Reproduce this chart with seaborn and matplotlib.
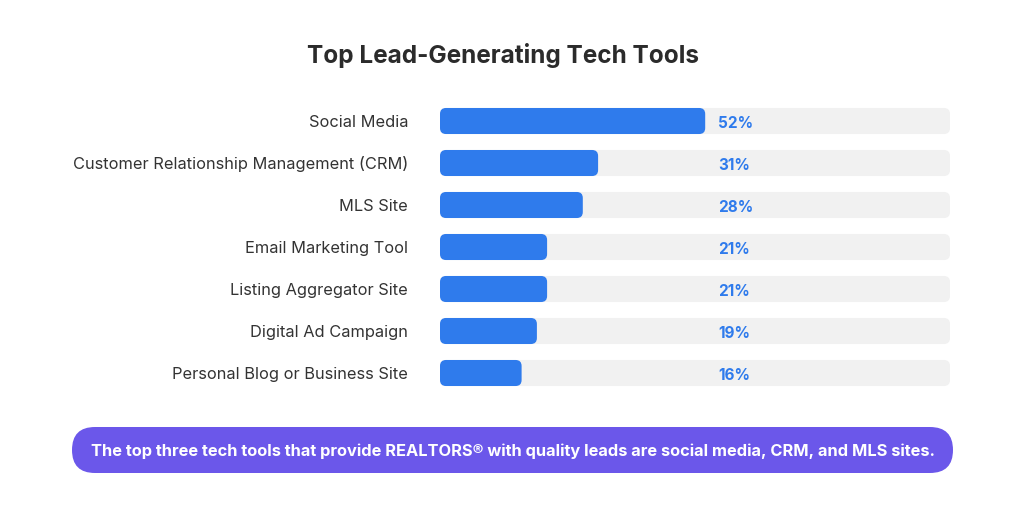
import matplotlib
matplotlib.use("Agg")
import matplotlib.pyplot as plt
from matplotlib.patches import FancyBboxPatch
import pandas as pd
import seaborn as sns

tools = ["Social Media", "Customer Relationship Management (CRM)", "MLS Site",
         "Email Marketing Tool", "Listing Aggregator Site", "Digital Ad Campaign",
         "Personal Blog or Business Site"]
shares = [52, 31, 28, 21, 21, 19, 16]
full = [100] * len(tools)

title = "Top Lead-Generating Tech Tools"
note = "The top three tech tools that provide REALTORS\u00ae with quality leads are social media, CRM, and MLS sites."

BLUE = "#2F7BEC"
TRACK = "#F1F1F1"
PURPLE = "#6B57EA"
DARK = "#2B2B2B"

sns.set_theme(style="white")
plt.rcParams["font.family"] = ["Inter", "DejaVu Sans"]

df = pd.DataFrame({"tool": tools, "share": shares, "full": full})

fig = plt.figure(figsize=(10.24, 5.12), dpi=100)
ax = fig.add_axes([440 / 1024, 1 - 394 / 512, 510 / 1024, 294 / 512])

sns.barplot(data=df, x="full", y="tool", color=TRACK, width=0.62, ax=ax,
            saturation=1, orient="h")
sns.barplot(data=df, x="share", y="tool", color=BLUE, width=0.62, ax=ax,
            saturation=1, orient="h")
ax.set_xlim(0, 100)
ax.set_ylim(len(tools) - 0.5, -0.5)

# swap square bars for rounded ones
x_per_px = 100 / 510
y_per_px = 7 / 294
aspect = y_per_px / x_per_px
for p in list(ax.patches):
    x0, y0 = p.get_x(), p.get_y()
    w, h = p.get_width(), p.get_height()
    fc = p.get_facecolor()
    p.remove()
    ax.add_patch(FancyBboxPatch((x0, y0), w, h,
                                boxstyle="round,pad=0,rounding_size=%.3f" % (6 * x_per_px),
                                mutation_aspect=aspect, facecolor=fc,
                                edgecolor="none"))

for i, v in enumerate(shares):
    ax.text(54.6, i + 0.05, f"{v}%", va="center", ha="left", color=BLUE,
            fontsize=11, fontweight="bold")

ax.set_xlabel("")
ax.set_ylabel("")
ax.set_xticks([])
ax.tick_params(axis="y", length=0, pad=23, labelsize=11.8, labelcolor="#333333")
sns.despine(ax=ax, left=True, bottom=True)

fig.text(503 / 1024, 1 - 55 / 512, title, ha="center", va="center",
         fontsize=17.5, fontweight="bold", color=DARK)

# summary banner
bx = fig.add_axes([0, 0, 1, 1], zorder=-1)
bx.set_xlim(0, 1024)
bx.set_ylim(512, 0)
bx.axis("off")
bx.add_patch(FancyBboxPatch((72, 427), 881, 46,
                            boxstyle="round,pad=0,rounding_size=23",
                            facecolor=PURPLE, edgecolor="none"))
bx.text(513, 451, note, ha="center", va="center", color="white",
        fontsize=11.8, fontweight="bold")

fig.savefig("out.png", dpi=100)
